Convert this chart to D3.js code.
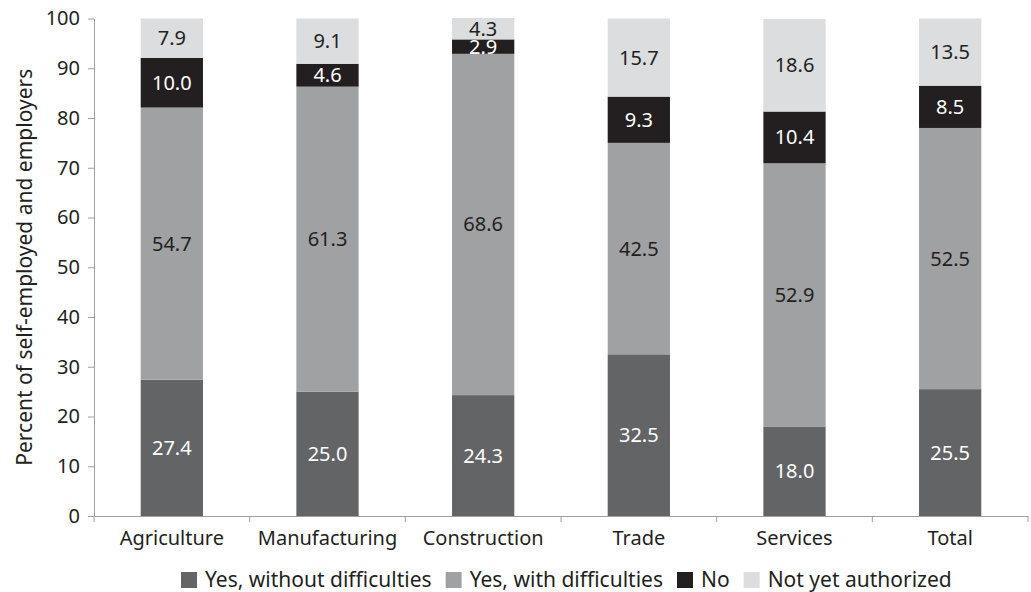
<!DOCTYPE html>
<html><head><meta charset="utf-8">
<script src="https://cdn.jsdelivr.net/npm/d3@7"></script>
<style>body{margin:0;background:#fff}svg{display:block}text{font-family:"Noto Sans","Open Sans",sans-serif}</style>
</head><body><svg id="c" width="1031" height="592"></svg>
<script>
const categories = ["Agriculture","Manufacturing","Construction","Trade","Services","Total"];
const seriesNames = ["Yes, without difficulties","Yes, with difficulties","No","Not yet authorized"];
const yesWithout = [27.4,25.0,24.3,32.5,18.0,25.5];
const yesWith = [54.7,61.3,68.6,42.5,52.9,52.5];
const noAuth = [10.0,4.6,2.9,9.3,10.4,8.5];
const notYet = [7.9,9.1,4.3,15.7,18.6,13.5];
const colors = ["#636466","#a0a1a3","#231f20","#dcdddf"];
const labelColors = ["#ffffff","#231f20","#ffffff","#231f20"];
const yTicks = [0,10,20,30,40,50,60,70,80,90,100];

const FS = 20;
const svg = d3.select("#c");
const m = {left:94, right:1028, top:18.5, bottom:516};
const x = d3.scaleBand().domain(categories).range([m.left,m.right]).paddingInner(0.6).paddingOuter(0.3);
const xAxisScale = d3.scaleBand().domain(categories).range([m.left,m.right]);
const y = d3.scaleLinear().domain([0,100]).range([m.bottom,m.top]);

const rows = categories.map((c,i)=>({cat:c, s0:yesWithout[i], s1:yesWith[i], s2:noAuth[i], s3:notYet[i]}));
const stack = d3.stack().keys(["s0","s1","s2","s3"])(rows);

stack.forEach((layer,k)=>{
  const g = svg.append("g");
  g.selectAll("rect").data(layer).join("rect")
    .attr("x",d=>x(d.data.cat)).attr("width",x.bandwidth())
    .attr("y",d=>y(d[1])).attr("height",d=>y(d[0])-y(d[1]))
    .attr("fill",colors[k]);
  g.selectAll("text").data(layer).join("text")
    .attr("x",d=>x(d.data.cat)+x.bandwidth()/2)
    .attr("y",d=>y((d[0]+d[1])/2))
    .attr("dy","0.35em").attr("text-anchor","middle")
    .style("font-size",FS+"px").attr("fill",labelColors[k])
    .text(d=>(d[1]-d[0]).toFixed(1));
});

// y axis
const ya = svg.append("g").attr("transform",`translate(${m.left},0)`)
  .call(d3.axisLeft(y).tickValues(yTicks).tickSize(6).tickPadding(8).tickSizeOuter(0));
ya.attr("font-size",null).attr("font-family",null);
ya.select(".domain").attr("stroke","#a0a0a0");
ya.selectAll(".tick line").attr("stroke","#a0a0a0");
ya.selectAll(".tick text").style("font-size",FS+"px").attr("fill","#231f20");

// x axis
const xa = svg.append("g").attr("transform",`translate(0,${m.bottom})`)
  .call(d3.axisBottom(xAxisScale).tickSize(0).tickPadding(15));
xa.attr("font-size",null).attr("font-family",null);
xa.select(".domain").attr("stroke","#a0a0a0");
xa.selectAll(".tick text").style("font-size",FS+"px").attr("fill","#231f20");
// boundary ticks between categories
xa.selectAll(".sep").data(categories).join("line").attr("class","sep")
  .attr("x1",d=>xAxisScale(d)).attr("x2",d=>xAxisScale(d))
  .attr("y1",0).attr("y2",6).attr("stroke","#a0a0a0");
xa.append("line").attr("x1",m.right).attr("x2",m.right).attr("y1",0).attr("y2",6).attr("stroke","#a0a0a0");

// y title
svg.append("text").attr("transform",`translate(25,${(m.top+m.bottom)/2}) rotate(-90)`)
  .attr("text-anchor","middle").attr("dy","0.35em").style("font-size","21px").attr("fill","#231f20")
  .text("Percent of self-employed and employers");

// legend
const lg = svg.append("g");
let lx = 181;
seriesNames.forEach((n,k)=>{
  lg.append("rect").attr("x",lx).attr("y",572).attr("width",16).attr("height",16).attr("fill",colors[k]);
  const t = lg.append("text").attr("x",lx+24).attr("y",580).attr("dy","0.35em")
    .style("font-size","21px").attr("fill","#231f20").text(n);
  lx += 24 + t.node().getComputedTextLength() + 14;
});
</script></body></html>
